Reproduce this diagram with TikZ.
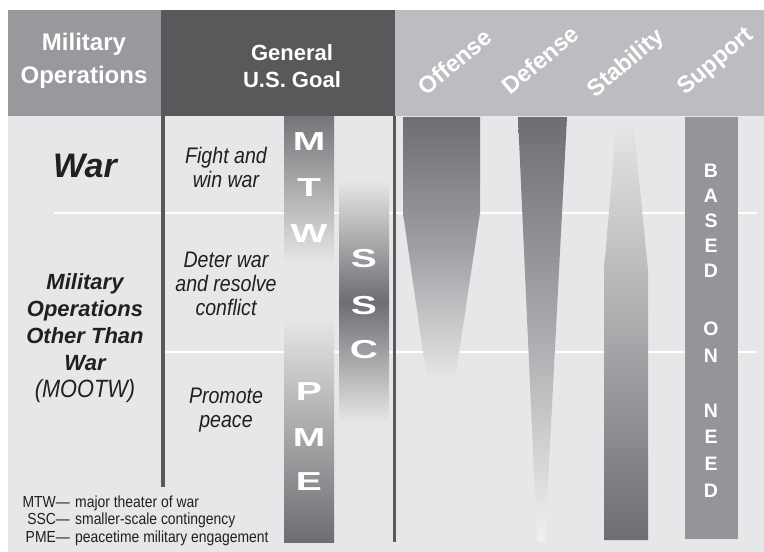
\documentclass[tikz,border=0pt]{standalone}
\usepackage{fontspec}
\setmainfont{Liberation Sans}
\newfontfamily\narrowfont[FakeStretch=0.87]{Liberation Sans}
\newfontfamily\widefont[FakeStretch=1.5]{Liberation Sans}
\definecolor{bg}{HTML}{E6E7E8}
\definecolor{hdrA}{HTML}{98999C}
\definecolor{hdrB}{HTML}{58595B}
\definecolor{hdrC}{HTML}{BCBDC0}
\definecolor{barDark}{HTML}{6D6E71}
\definecolor{barMid}{HTML}{9FA0A3}
\definecolor{supportGray}{HTML}{939598}
\definecolor{lineDark}{HTML}{58595B}
\definecolor{textDark}{HTML}{231F20}
\tikzset{
  hdrtext/.style={text=white, inner sep=0pt, anchor=base, font=\bfseries\fontsize{24}{24}\selectfont},
  goaltext/.style={text=white, inner sep=0pt, anchor=base, font=\bfseries\fontsize{22}{22}\selectfont},
  rothdr/.style={text=white, inner sep=0pt, rotate=40, font=\bfseries\fontsize{23.5}{23.5}\selectfont},
  opbig/.style={text=textDark, inner sep=0pt, anchor=base, font=\bfseries\itshape\fontsize{34}{34}\selectfont},
  opmid/.style={text=textDark, inner sep=0pt, anchor=base, font=\bfseries\itshape\fontsize{22}{22}\selectfont},
  opparen/.style={text=textDark, inner sep=0pt, anchor=base, font=\narrowfont\itshape\fontsize{25}{25}\selectfont},
  goal/.style={text=textDark, inner sep=0pt, anchor=base, font=\narrowfont\itshape\fontsize{22.5}{22.5}\selectfont},
  barletter/.style={text=white, inner sep=0pt, anchor=base, font=\widefont\bfseries\fontsize{26}{26}\selectfont},
  needletter/.style={text=white, inner sep=0pt, anchor=base, font=\bfseries\fontsize{19.5}{19.5}\selectfont},
  legab/.style={text=textDark, inner sep=0pt, anchor=base east, font=\narrowfont\fontsize{16}{16}\selectfont},
  legtx/.style={text=textDark, inner sep=0pt, anchor=base west, font=\narrowfont\fontsize{16}{16}\selectfont},
  whiteline/.style={white, line width=2pt},
  darkline/.style={lineDark, line width=3.2pt}
}
\begin{document}
\begin{tikzpicture}[x=1pt,y=-1pt]
\useasboundingbox (0,0) rectangle (764,552);
% backgrounds
\fill[bg] (8,116) rectangle (764,552);
\fill[hdrA] (8,10) rectangle (161,116);
\fill[hdrB] (161,10) rectangle (395,116);
\fill[hdrC] (395,10) rectangle (764,116);
% white row separators
\draw[whiteline] (54,213) -- (757,213);
\draw[whiteline] (165,352) -- (757,352);
% MTW / PME / SSC bars
\shade[top color=barDark!95!white, bottom color=bg] (284,116) rectangle (334,264);
\shade[top color=bg, bottom color=barDark] (284,316) rectangle (334,542);
\shade[top color=bg, bottom color=bg, middle color=barDark] (339,180) rectangle (389,423);
% Offense
\shade[top color=barDark, bottom color=bg, middle color=barMid]
  (403,117) -- (480,117) -- (480,213) -- (455,380) -- (427,380) -- (403,213) -- cycle;
% Defense
\shade[top color=barDark, bottom color=bg!60!white, middle color=barMid!90!white]
  (518,117) -- (567,117) -- (545,541) -- (537,541) -- cycle;
% Stability
\shade[top color=bg, bottom color=barDark]
  (617,118) -- (633,118) -- (648,270) -- (648,540) -- (604,540) -- (604,270) -- cycle;
% Support
\fill[supportGray] (685,117) rectangle (738,539);
% vertical separators
\draw[darkline] (163,116) -- (163,487);
\draw[darkline] (394.5,116) -- (394.5,542);
% header texts
\node[hdrtext] (hmil1) at (84,50) {Military};
\node[hdrtext] (hmil2) at (84,83) {Operations};
\node[goaltext] (hgoal1) at (292,60) {General};
\node[goaltext] (hgoal2) at (292,87) {U.S. Goal};
\node[rothdr] (hoff) at (455,62) {Offense};
\node[rothdr] (hdef) at (540,60) {Defense};
\node[rothdr] (hsta) at (627,64) {Stability};
\node[rothdr] (hsup) at (716,62) {Support};
% left column
\node[opbig] (war) at (85,177) {War};
\node[opmid] (moo1) at (85,289) {Military};
\node[opmid] (moo2) at (85,316) {Operations};
\node[opmid] (moo3) at (85,343) {Other Than};
\node[opmid] (moo4) at (85,370) {War};
\node[opparen] (moo5) at (85,397) {(MOOTW)};
% goal column
\node[goal] (g1a) at (226,163) {Fight and};
\node[goal] (g1b) at (226,187) {win war};
\node[goal] (g2a) at (226,267) {Deter war};
\node[goal] (g2b) at (226,291) {and resolve};
\node[goal] (g2c) at (226,315) {conflict};
\node[goal] (g3a) at (226,403) {Promote};
\node[goal] (g3b) at (226,427) {peace};
% bar letters
\node[barletter] (mtw1) at (309,150) {M};
\node[barletter] (mtw2) at (309,196) {T};
\node[barletter] (mtw3) at (309,242) {W};
\node[barletter] (pme1) at (309,400) {P};
\node[barletter] (pme2) at (309,446) {M};
\node[barletter] (pme3) at (309,490) {E};
\node[barletter] (ssc1) at (364,267) {S};
\node[barletter] (ssc2) at (364,314) {S};
\node[barletter] (ssc3) at (364,358) {C};
% based on need
\node[needletter] (bn1) at (711,177) {B};
\node[needletter] (bn2) at (711,202) {A};
\node[needletter] (bn3) at (711,227) {S};
\node[needletter] (bn4) at (711,252) {E};
\node[needletter] (bn5) at (711,277) {D};
\node[needletter] (bn6) at (711,335) {O};
\node[needletter] (bn7) at (711,362) {N};
\node[needletter] (bn8) at (711,417) {N};
\node[needletter] (bn9) at (711,443) {E};
\node[needletter] (bn10) at (711,470) {E};
\node[needletter] (bn11) at (711,497) {D};
% legend
\node[legab] (lg1a) at (70,507) {MTW—};
\node[legtx] (lg1b) at (75,507) {major theater of war};
\node[legab] (lg2a) at (70,524.5) {SSC—};
\node[legtx] (lg2b) at (75,524.5) {smaller-scale contingency};
\node[legab] (lg3a) at (70,542) {PME—};
\node[legtx] (lg3b) at (75,542) {peacetime military engagement};
\end{tikzpicture}
\end{document}
